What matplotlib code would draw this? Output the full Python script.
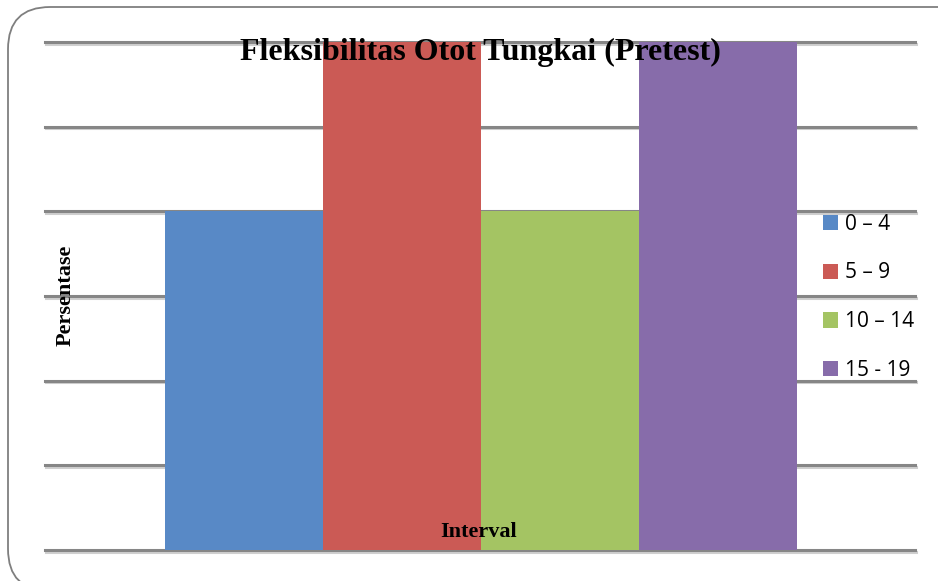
import matplotlib.pyplot as plt
import matplotlib.patheffects as pe
from matplotlib.patches import FancyBboxPatch

# data
intervals = ['0 – 4', '5 – 9', '10 – 14', '15 - 19']
persentase = [4, 6, 4, 6]
colors = ['#5889C6', '#CB5A55', '#A4C463', '#876CAA']

W, H = 938, 581
fig = plt.figure(figsize=(W / 100, H / 100), dpi=100)

# rounded outer frame (runs off the right and bottom edges)
frame = FancyBboxPatch((8 / W, -10 / H), 980 / W, (H - 7 + 10) / H,
                       boxstyle='round,pad=0,rounding_size=0.045',
                       transform=fig.transFigure, fill=False,
                       edgecolor='#7f7f7f', linewidth=1.3, mutation_aspect=W / H)
fig.patches.append(frame)

ax = fig.add_axes([45 / W, 1 - 550 / H, 870 / W, (550 - 42) / H])
for i, (v, c) in enumerate(zip(persentase, colors)):
    ax.bar(i, v, width=1.0, color=c, label=intervals[i], zorder=3)

ax.set_xlim(-1.26, 4.25)
ax.set_ylim(0, 6)
ax.set_yticks(range(0, 7))
ax.grid(axis='y', color='#868686', linewidth=2.2, zorder=0,
        path_effects=[pe.SimpleLineShadow(offset=(0.6, -1.2), shadow_color='#cfcfcf', alpha=1), pe.Normal()])
for gl in ax.yaxis.get_gridlines():
    gl.set_clip_on(False)
ax.set_axisbelow(True)
for s in ax.spines.values():
    s.set_visible(False)
ax.tick_params(left=False, bottom=False, labelleft=False, labelbottom=False)

fig.text(480 / W, 1 - 52 / H, 'Fleksibilitas Otot Tungkai (Pretest)', ha='center', va='center',
         family='Liberation Serif', fontweight='bold', fontsize=23)
fig.text(479 / W, 1 - 532 / H, 'Interval', ha='center', va='center',
         family='Liberation Serif', fontweight='bold', fontsize=16)
fig.text(66 / W, 1 - 295 / H, 'Persentase', ha='center', va='center', rotation=90,
         family='Liberation Serif', fontweight='bold', fontsize=16)

leg = ax.legend(loc='upper left', bbox_to_anchor=(804 / W, 1 - 195 / H), bbox_transform=fig.transFigure,
                frameon=False, prop={'family': 'Open Sans', 'size': 15},
                handlelength=0.75, handleheight=0.75, handletextpad=0.3, labelspacing=1.33)
leg.set_zorder(5)

fig.savefig('out.png', dpi=100)
